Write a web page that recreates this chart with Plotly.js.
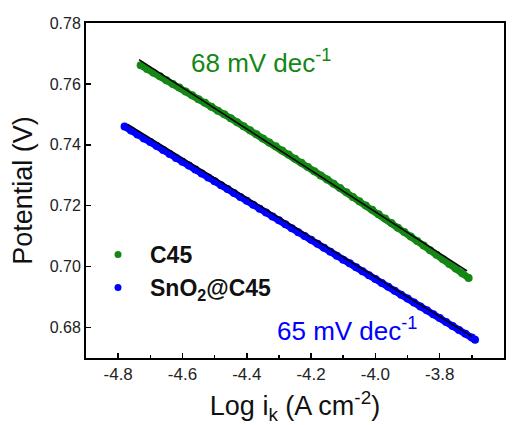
<!DOCTYPE html>
<html>
<head>
<meta charset="utf-8">
<script src="https://cdn.plot.ly/plotly-3.0.1.min.js"></script>
<style>html,body{margin:0;padding:0;background:#fff;}#chart{width:516px;height:425px;}</style>
</head>
<body>
<div id="chart"></div>
<script>
// ---- data ----
const c45X = [-4.73,-4.71,-4.69,-4.67,-4.65,-4.63,-4.61,-4.59,-4.57,-4.55,-4.53,-4.51,-4.49,-4.47,-4.45,-4.43,-4.41,-4.39,-4.37,-4.35,-4.33,-4.31,-4.29,-4.27,-4.25,-4.23,-4.21,-4.19,-4.17,-4.15,-4.13,-4.11,-4.09,-4.07,-4.05,-4.03,-4.01,-3.99,-3.97,-3.95,-3.93,-3.91,-3.89,-3.87,-3.85,-3.83,-3.81,-3.79,-3.77,-3.75,-3.73,-3.71];
const c45Y = [0.7661,0.7649,0.7637,0.7625,0.7612,0.7600,0.7588,0.7575,0.7563,0.7550,0.7538,0.7525,0.7512,0.7500,0.7487,0.7474,0.7461,0.7448,0.7435,0.7421,0.7408,0.7395,0.7381,0.7368,0.7354,0.7341,0.7327,0.7313,0.7299,0.7286,0.7272,0.7258,0.7244,0.7229,0.7215,0.7201,0.7187,0.7172,0.7158,0.7143,0.7128,0.7114,0.7099,0.7084,0.7069,0.7054,0.7039,0.7024,0.7009,0.6994,0.6978,0.6963];
const snoX = [-4.78,-4.76,-4.74,-4.72,-4.70,-4.68,-4.66,-4.64,-4.62,-4.60,-4.58,-4.56,-4.54,-4.52,-4.50,-4.48,-4.46,-4.44,-4.42,-4.40,-4.38,-4.36,-4.34,-4.32,-4.30,-4.28,-4.26,-4.24,-4.22,-4.20,-4.18,-4.16,-4.14,-4.12,-4.10,-4.08,-4.06,-4.04,-4.02,-4.00,-3.98,-3.96,-3.94,-3.92,-3.90,-3.88,-3.86,-3.84,-3.82,-3.80,-3.78,-3.76,-3.74,-3.72,-3.70,-3.69];
const snoY = [0.7460,0.7447,0.7434,0.7421,0.7409,0.7396,0.7383,0.7370,0.7357,0.7344,0.7332,0.7319,0.7306,0.7293,0.7280,0.7267,0.7255,0.7242,0.7229,0.7216,0.7203,0.7190,0.7178,0.7165,0.7152,0.7139,0.7126,0.7113,0.7101,0.7088,0.7075,0.7062,0.7049,0.7036,0.7023,0.7011,0.6998,0.6985,0.6972,0.6959,0.6946,0.6934,0.6921,0.6908,0.6895,0.6882,0.6869,0.6857,0.6844,0.6831,0.6818,0.6805,0.6792,0.6780,0.6767,0.6760];
const fitC45X = [-4.735, -3.715];
const fitC45Y = [0.7680, 0.6986];
const fitSnoX = [-4.770, -3.700];
const fitSnoY = [0.7467, 0.6771];
const seriesNames = ['<b>C45</b>', '<b>SnO<sub>2</sub>@C45</b>'];
const slopeLabels = ['68 mV dec<sup>-1</sup>', '65 mV dec<sup>-1</sup>'];
const xTickVals = [-4.8, -4.6, -4.4, -4.2, -4.0, -3.8, -3.6];
const xTickText = ['-4.8', '-4.6', '-4.4', '-4.2', '-4.0', '-3.8', '-3.6'];
const yTickVals = [0.68, 0.70, 0.72, 0.74, 0.76, 0.78];

const GREEN = 'rgb(20,135,20)';
const BLUE = 'rgb(0,0,255)';
const FONT = '"Liberation Sans", Arial, sans-serif';

const traces = [
  {x: c45X, y: c45Y, mode: 'lines+markers', line: {color: GREEN, width: 7},
   marker: {color: GREEN, size: 8}, showlegend: false, hoverinfo: 'skip'},
  {x: snoX, y: snoY, mode: 'lines+markers', line: {color: BLUE, width: 7},
   marker: {color: BLUE, size: 8}, showlegend: false, hoverinfo: 'skip'},
  {x: fitC45X, y: fitC45Y, mode: 'lines', line: {color: '#000', width: 1.5}, showlegend: false},
  {x: fitSnoX, y: fitSnoY, mode: 'lines', line: {color: '#000', width: 1.5}, showlegend: false},
  {x: [null], y: [null], mode: 'markers', name: seriesNames[0], marker: {color: GREEN, size: 7}},
  {x: [null], y: [null], mode: 'markers', name: seriesNames[1], marker: {color: BLUE, size: 7}}
];

const layout = {
  width: 516, height: 425,
  margin: {l: 86, r: 12, t: 23, b: 67, pad: 0},
  paper_bgcolor: '#fff', plot_bgcolor: '#fff',
  font: {family: FONT, color: '#222'},
  showlegend: true,
  legend: {x: 0.0, y: 0.373, xanchor: 'left', yanchor: 'top', bgcolor: 'rgba(0,0,0,0)',
           font: {family: FONT, size: 23, color: '#111'}, itemwidth: 54, tracegroupgap: 0},
  xaxis: {
    range: [-4.9, -3.6], showgrid: false, zeroline: false,
    showline: true, linecolor: '#000', linewidth: 2, mirror: true,
    ticks: 'inside', ticklen: 5, tickwidth: 1.5, tickcolor: '#000',
    tickvals: xTickVals, ticktext: xTickText,
    tickfont: {family: FONT, size: 17, color: '#222'},
    minor: {dtick: 0.1, tick0: -4.8, ticks: 'inside', ticklen: 3, tickwidth: 1.5, tickcolor: '#000'},
    title: {text: 'Log i<sub>k</sub> (A cm<sup>-2</sup>)', font: {family: FONT, size: 27, color: '#111'}, standoff: 17}
  },
  yaxis: {
    range: [0.670, 0.780], showgrid: false, zeroline: false,
    showline: true, linecolor: '#000', linewidth: 2, mirror: true,
    ticks: 'inside', ticklen: 5, tickwidth: 1.5, tickcolor: '#000',
    tickvals: yTickVals, tickformat: '.2f',
    tickfont: {family: FONT, size: 16, color: '#222'},
    title: {text: 'Potential (V)', font: {family: FONT, size: 27, color: '#111'}, standoff: 9}
  },
  annotations: [
    {x: -4.58, y: 0.7672, xref: 'x', yref: 'y', text: slopeLabels[0], showarrow: false,
     xanchor: 'left', yanchor: 'middle', font: {family: FONT, size: 26, color: GREEN}},
    {x: -4.312, y: 0.6792, xref: 'x', yref: 'y', text: slopeLabels[1], showarrow: false,
     xanchor: 'left', yanchor: 'middle', font: {family: FONT, size: 26, color: BLUE}}
  ]
};

Plotly.newPlot('chart', traces, layout, {displayModeBar: false, staticPlot: true});
</script>
</body>
</html>
